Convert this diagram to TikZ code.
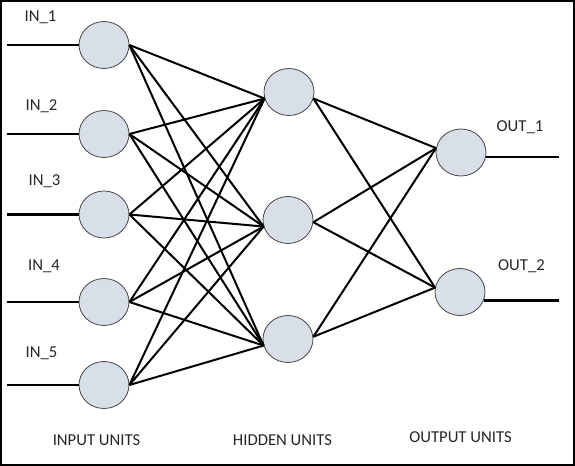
\documentclass[tikz,border=0pt]{standalone}
\usepackage{fontspec}
\setmainfont{Carlito}
\usetikzlibrary{shapes.geometric}
\definecolor{nodefill}{RGB}{217,223,233}
\definecolor{nodeline}{RGB}{70,70,70}
\begin{document}
\begin{tikzpicture}[x=0.75pt,y=-0.75pt,
  unit/.style={ellipse,draw=nodeline,line width=0.6pt,fill=nodefill,minimum width=37.5pt,minimum height=35.25pt,inner sep=0pt},
  conn/.style={line width=1.5pt,black},
  ioline/.style={line width=1.8pt,black},
  lbl/.style={font=\fontsize{12.5pt}{15pt}\selectfont,inner sep=0pt,anchor=base,text=black!85}]
\useasboundingbox (0,0) rectangle (575,466);
\draw[line width=1.6pt] (1,1) rectangle (574,465);
% input units
\node[unit] (i1) at (104,45) {};
\node[unit] (i2) at (104,134) {};
\node[unit] (i3) at (104,214.5) {};
\node[unit] (i4) at (104,302) {};
\node[unit] (i5) at (104,385) {};
% hidden
\node[unit] (h1) at (289,92) {};
\node[unit] (h2) at (288,220) {};
\node[unit] (h3) at (288,339) {};
% outputs
\node[unit] (o1) at (461,152.5) {};
\node[unit] (o2) at (460,292) {};
% input lines
\foreach \i/\y in {1/45,2/134,3/214.5,4/302,5/385}{
  \coordinate (s\i) at (7,\y);
  \draw[ioline] (s\i) -- (i\i.west);
}
\coordinate (e) at (559,0);
\draw[ioline] (o1.-10) -- (o1.-10 -| e);
\draw[ioline] (o2.-20) -- (o2.-20 -| e);
% connections input -> hidden
\foreach \i in {1,...,5}{
  \foreach \h in {1,2,3}{
    \draw[conn] (i\i.east) -- (h\h.195);
  }
}
% hidden -> output
\foreach \h/\a in {1/345,2/355,3/5}{
  \foreach \o in {1,2}{
    \draw[conn] (h\h.\a) -- (o\o.170);
  }
}
% labels
\node[lbl] (l1) at (40.5,21.7) {IN\_1};
\node[lbl] (l2) at (41.5,111) {IN\_2};
\node[lbl] (l3) at (44.5,186) {IN\_3};
\node[lbl] (l4) at (44,271) {IN\_4};
\node[lbl] (l5) at (41.5,358) {IN\_5};
\node[lbl] (lo1) at (520,131.5) {OUT\_1};
\node[lbl] (lo2) at (521.5,271) {OUT\_2};
\node[lbl] (ti) at (96.5,446) {INPUT UNITS};
\node[lbl] (th) at (282.5,446) {HIDDEN UNITS};
\node[lbl] (to) at (460.5,443) {OUTPUT UNITS};
\end{tikzpicture}
\end{document}
